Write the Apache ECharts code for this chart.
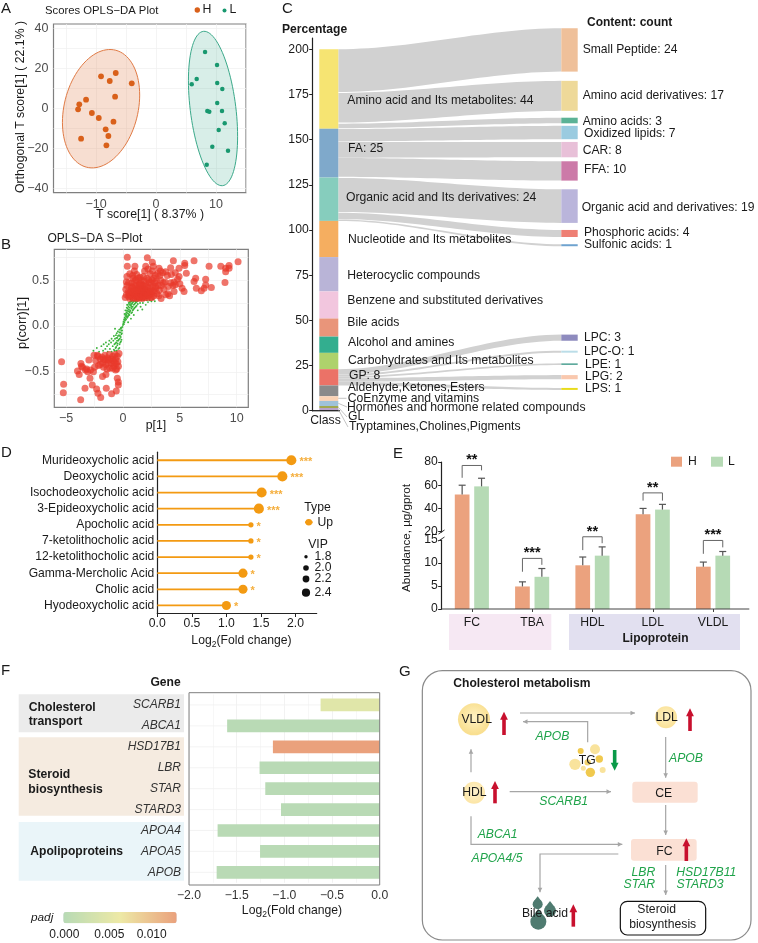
<!DOCTYPE html>
<html><head><meta charset="utf-8">
<style>html,body{margin:0;padding:0;background:#fff}#c{width:758px;height:943px}</style>
<script src="https://cdn.jsdelivr.net/npm/echarts@6/dist/echarts.min.js"></script></head>
<body><div id="c"></div>
<script>
// ---------- Panel A ----------
const scoresH = [[-9.17,16],[-6.72,17.65],[-7.72,13.65],[-4.05,12.5],[-6.83,5.8],[-11.67,4.3],[-12.8,2],[-13,-0.5],[-10.7,-2.35],[-9.55,-4.85],[-7.1,-6.7],[-8.4,-10.5],[-7.95,-13.85],[-12.5,-15.2],[-8.28,-18.5]];
const scoresL = [[8.17,28.15],[10.17,21.65],[6.78,14.65],[5.95,12],[10.2,12.65],[11.05,9.65],[10.2,2.65],[8.55,-1.35],[8.88,-1.7],[11,-1.35],[11.45,-7.5],[10.45,-10.85],[9.38,-19.2],[12,-21.2],[8.45,-28.2]];
const ellipseH = [-9.17,-0.2,6.44,29.6,0.23];   // cx, cy, half x, half y, correlation
const ellipseL = [9.5,-0.1,4.1,38.6,-0.36];
// ---------- Panel B ----------
const sRedUp = [[0.38,0.75],[0.38,0.65],[1.05,0.65],[2.14,0.745],[2,0.65],[2.58,0.695],[2.67,0.65],[4.43,0.71],[5.43,0.685],[5.43,0.66],[6.25,0.71],[7.57,0.65],[8.6,0.65],[9.33,0.66],[9.03,0.63],[10.12,0.7],[9.33,0.63],[9.03,0.59],[8.97,0.475],[7.77,0.42],[7.27,0.51],[7.27,0.447],[7.13,0.41],[6.89,0.385],[6.39,0.52],[6.25,0.484],[6.45,0.41],[5.37,0.375],[5.57,0.575],[4.93,0.54],[4.93,0.63],[4.19,0.636],[3.75,0.59],[3.17,0.63],[4.49,0.48],[4.49,0.375],[4.1,0.33],[3.95,0.35],[3.35,0.3],
[0.2,0.31],[0.3,0.34],[0.25,0.4],[0.35,0.44],[0.3,0.48],[0.5,0.32],[0.55,0.36],[0.6,0.3],[0.7,0.33],[0.7,0.38],[0.75,0.43],[0.8,0.47],[0.85,0.55],[0.9,0.31],[0.95,0.35],[1,0.3],[1.05,0.39],[1.1,0.33],[1.1,0.44],[1.15,0.5],[1.2,0.31],[1.25,0.36],[1.3,0.41],[1.35,0.3],[1.4,0.34],[1.4,0.38],[1.45,0.46],[1.5,0.31],[1.5,0.53],[1.55,0.36],[1.6,0.41],[1.65,0.33],[1.7,0.3],[1.7,0.38],[1.75,0.44],[1.8,0.35],[1.85,0.49],[1.9,0.31],[1.9,0.4],[1.95,0.36],[2,0.33],[2,0.45],[2.05,0.39],[2.1,0.31],[2.1,0.52],[2.15,0.36],[2.2,0.42],[2.25,0.33],[2.3,0.47],[2.3,0.38],[2.4,0.31],[2.45,0.4],[2.5,0.35],[2.55,0.5],[2.6,0.43],[2.7,0.33],[2.75,0.38],[2.8,0.47],[2.85,0.55],[2.9,0.41],[3,0.35],[3.1,0.44],[3.2,0.39],[3.3,0.5],[3.4,0.44],[3.5,0.58],[3.6,0.4],[3.7,0.48],[3.75,0.34],[3.9,0.55],[4,0.43],[4.2,0.47],[4.4,0.44],[4.6,0.45],[4.8,0.51],[5,0.46],[1.2,0.56],[0.6,0.57],[1,0.6],[1.9,0.6],[2.4,0.57],[2.2,0.62],[3.3,0.6],[0.8,0.42],
[0.6,0.34],[0.85,0.37],[1.15,0.35],[1.3,0.33],[1.45,0.32],[1.6,0.35],[1.75,0.32],[1.85,0.37],[2,0.37],[2.2,0.34],[2.35,0.35],[1.55,0.39],[1.7,0.41],[1.2,0.39],[2.6,0.38],[0.45,0.37],[1.35,0.44],[1.95,0.43],
[0.9,0.52],[1.6,0.5],[1.8,0.54],[2.45,0.47],[2.7,0.52],[2.95,0.49],[3.25,0.55],[1.05,0.49],[1.35,0.52],[2.25,0.5],[2.6,0.6],[3.05,0.57],[0.5,0.47],[1.6,0.46],[2.85,0.43],[3.55,0.47],[3.15,0.33],[2.55,0.31],[0.9,0.41],[1.5,0.44],[0.35,0.54],[4.6,0.58],[4.25,0.56],[5.2,0.41]];
const sRedDown = [[-5.4,-0.39],[-5.22,-0.636],[-5.25,-0.727],[-3.72,-0.804],[-3.34,-0.68],[-2.7,-0.644],[-2.32,-0.687],[-2.2,-0.735],[-1.96,-0.78],[-1.47,-0.68],[-1,-0.738],[-0.59,-0.71],[-0.41,-0.644],[-0.41,-0.61],[-0.5,-0.57],[-4,-0.49],[-3.85,-0.53],[-3.7,-0.41],[-3.55,-0.45],[-3,-0.37],[-2.9,-0.57],[-3.3,-0.48],[-3.1,-0.5],[-2.85,-0.48],[-2.5,-0.45],[-2.55,-0.32],[-2.25,-0.32],[-1.8,-0.55],[-1.5,-0.53],[-3.65,-0.44],[-3.2,-0.47],[-2.6,-0.5],
[-2.4,-0.38],[-2.2,-0.33],[-2,-0.36],[-2,-0.42],[-1.85,-0.34],[-1.8,-0.4],[-1.7,-0.45],[-1.6,-0.32],[-1.55,-0.37],[-1.5,-0.42],[-1.35,-0.35],[-1.3,-0.4],[-1.2,-0.31],[-1.15,-0.46],[-1.05,-0.36],[-1,-0.41],[-0.9,-0.33],[-0.85,-0.38],[-0.8,-0.44],[-0.7,-0.31],[-0.65,-0.36],[-0.6,-0.41],[-0.55,-0.47],[-0.5,-0.33],[-0.45,-0.39],[-0.4,-0.44],[-0.35,-0.3],[-0.65,-0.48],[-1.4,-0.47],[-0.9,-0.46],[-1.7,-0.36],[-2.15,-0.43],[-1.25,-0.37],[-0.75,-0.4]];
const sGreen = [[-2.6,-0.27],[-2.3,-0.24],[-2.1,-0.28],[-1.9,-0.22],[-1.75,-0.27],[-1.7,-0.2],[-1.55,-0.25],[-1.5,-0.18],[-1.4,-0.22],[-1.35,-0.28],[-1.25,-0.2],[-1.2,-0.16],[-1.15,-0.25],[-1.05,-0.18],[-1,-0.14],[-1,-0.28],[-0.9,-0.22],[-0.85,-0.16],[-0.8,-0.11],[-0.8,-0.26],[-0.75,-0.2],[-0.7,-0.14],[-0.65,-0.24],[-0.62,-0.1],[-0.6,-0.18],[-0.55,-0.08],[-0.55,-0.27],[-0.5,-0.13],[-0.5,-0.21],[-0.45,-0.06],[-0.42,-0.16],[-0.4,-0.25],[-0.35,-0.1],[-0.33,-0.04],[-0.3,-0.2],[-0.28,-0.14],[-0.25,-0.07],[-0.22,-0.03],[-0.2,-0.12],[-0.18,-0.17],[-0.15,-0.05],[-0.12,-0.02],[-0.1,-0.08],[-0.05,-0.01],[0,0.01],[0.03,0.03],[0.05,0.05],[0.08,0.02],[0.1,0.07],[0.12,0.04],[0.15,0.09],[0.18,0.06],[0.2,0.11],[0.22,0.08],[0.25,0.13],[0.28,0.1],[0.3,0.15],[0.32,0.12],[0.35,0.17],[0.38,0.14],[0.4,0.19],[0.42,0.1],[0.45,0.16],[0.48,0.21],[0.5,0.13],[0.52,0.18],[0.55,0.23],[0.58,0.15],[0.6,0.2],[0.62,0.25],[0.65,0.17],[0.7,0.22],[0.72,0.27],[0.75,0.19],[0.78,0.24],[0.8,0.15],[0.82,0.28],[0.85,0.21],[0.88,0.26],[0.9,0.18],[0.95,0.23],[1,0.28],[1.05,0.2],[1.1,0.25],[1.15,0.29],[1.2,0.22],[1.25,0.27],[1.3,0.24],[1.4,0.28],[1.5,0.25],[1.55,0.21],[1.65,0.28],[1.75,0.25],[1.85,0.28],[2,0.23],[2.1,0.28],[2.2,0.26],[2.35,0.28],[2.5,0.27],[2.65,0.29],[2.8,0.27],[0.95,0.12],[0.7,0.08],[0.45,0.04],[-0.7,-0.03],[1.3,0.17],[1.7,0.18],
[0.14,0.13],[0.21,0.17],[0.27,0.07],[0.33,0.2],[0.37,0.09],[0.41,0.23],[0.46,0.11],[0.51,0.25],[0.56,0.12],[0.61,0.16],[0.66,0.23],[0.68,0.27],[0.73,0.14],[0.76,0.21],[0.81,0.25],[0.86,0.17],[0.92,0.27],[0.98,0.19],[1.02,0.24],[1.08,0.27],[1.12,0.21],[1.18,0.26],[0.64,0.29],[0.36,0.23],[0.58,0.26],[-0.08,-0.05],[-0.14,-0.09],[-0.17,-0.02],[-0.26,-0.11],[-0.31,-0.07],[-0.37,-0.15],[-0.44,-0.11],[-0.47,-0.19],[-0.52,-0.16],[-0.58,-0.13],[-0.6,-0.23],[-0.67,-0.19],[-0.72,-0.27],[-0.24,-0.18],[-0.32,-0.24],[-0.13,-0.15]];
// ---------- Panel C ----------
const classNames = ['Amino acid and Its metabolites: 44','FA: 25','Organic acid and Its derivatives: 24','Nucleotide and Its metabolites','Heterocyclic compounds','Benzene and substituted derivatives','Bile acids','Alcohol and amines','Carbohydrates and Its metabolites','GP: 8','Aldehyde,Ketones,Esters','CoEnzyme and vitamins','Hormones and hormone related compounds','GL','Tryptamines,Cholines,Pigments'];
const classSizes = [44,27,24,20,19,15,10,9,9,9,6,2.6,2.8,1.1,1.5];
const percentTicks = [0,25,50,75,100,125,150,175,200];
const contentNames = ['Small Peptide: 24','Amino acid derivatives: 17','Amino acids: 3','Oxidized lipids: 7','CAR: 8','FFA: 10','Organic acid and derivatives: 19','Phosphoric acids: 4','Sulfonic acids: 1','LPC: 3','LPC-O: 1','LPE: 1','LPG: 2','LPS: 1'];
const contentTop = [211.6,182.5,162.1,157.6,148.7,138,122.5,100,92.1,42.1,33.2,26.2,19.7,12.6];
const contentBottom = [187.6,165.9,159,150.2,140.2,127.3,103.9,96.1,91,38.7,32.1,25.3,17.4,11.5];
const flowLeftTop = [200,175.8,158.8,155.8,148.6,139.8,128.8,109.5,105.8,23,20,19,18,16];
const flowLeftBottom = [176.3,159.4,156.3,149,140,129.4,110,106,105,20,19,18,16,14];
// ---------- Panel D ----------
const acids = ['Murideoxycholic acid','Deoxycholic acid','Isochodeoxycholic acid','3-Epideoxycholic acid','Apocholic acid','7-ketolithocholic acid','12-ketolithocholic acid','Gamma-Mercholic Acid','Cholic acid','Hyodeoxycholic acid'];
const acidFC = [1.94,1.81,1.51,1.47,1.355,1.355,1.355,1.24,1.24,1.0];
const acidVIP = [2.5,2.5,2.5,2.5,2.0,2.0,2.0,2.4,2.4,2.4];
const acidStars = ['***','***','***','***','*','*','*','*','*','*'];
// ---------- Panel E ----------
const lipids = ['FC','TBA','HDL','LDL','VLDL'];
const abundH = [52,4.9,9.5,35,9.2];
const abundL = [59,7,11.6,39,11.6];
const errH = [60,5.9,11.3,40,10.2];
const errL = [66,8.8,13.5,43.5,12.5];
const bracketTop = [77,11,15.7,53.4,14.9];
const bracketLeftEnd = [66.4,8.1,12.8,46.7,12];
const bracketRightEnd = [72.8,9.6,14.3,46.7,13.4];
const bracketStars = ['**','***','**','**','***'];
// ---------- Panel F ----------
const genes = ['SCARB1','ABCA1','HSD17B1','LBR','STAR','STARD3','APOA4','APOA5','APOB'];
const geneFC = [-0.62,-1.6,-1.12,-1.26,-1.2,-1.035,-1.7,-1.255,-1.71];
const genePadj = [0.0048,0.0002,0.0125,0.0002,0.0002,0.0002,0.0002,0.0002,0.0002];

// ---------- palettes ----------
const classColors = ['#F6E472','#7FA9CB','#86CDBD','#F5AE60','#B9B4D7','#F2C6DE','#E9957A','#33AE8F','#AED26C','#EB7267','#8A8A8A','#FBD3B5','#9FC2D8','#A2A84F','#B9A3C9'];
const contentColors = ['#EFC09A','#EED999','#5BB296','#9ACBE0','#E8C0D8','#CC7AA8','#BAB5DB','#EE7F74','#6FA3CF','#8E8BBE','#BBDDE8','#5AA89A','#F9C8AE','#E8DB1C'];
const FONT = '"Liberation Sans",Arial,sans-serif';
const G = [];
function T(text,x,y,o){o=o||{};G.push({type:'text',x:x,y:y,rotation:o.rot||0,z:o.z||60,silent:true,style:{text:text,x:0,y:0,align:o.align||'left',verticalAlign:'middle',fontSize:o.size||12,fontFamily:FONT,fontWeight:o.bold?'bold':'normal',fontStyle:o.italic?'italic':'normal',fill:o.color||'#1a1a1a',rich:o.rich}});}
function R(x,y,w,h,fill,o){o=o||{};G.push({type:'rect',z:o.z==null?-5:o.z,silent:true,shape:{x:x,y:y,width:w,height:h,r:o.r||0},style:{fill:fill,stroke:o.stroke||null,lineWidth:o.lw||0}});}
function L(pts,color,lw,z){G.push({type:'polyline',z:z||50,silent:true,shape:{points:pts},style:{stroke:color,lineWidth:lw||1,fill:null}});}
function C(x,y,r,fill,z){G.push({type:'circle',z:z||40,silent:true,shape:{cx:x,cy:y,r:r},style:{fill:fill}});}
function P(pts,fill,z){G.push({type:'polygon',z:z||55,silent:true,shape:{points:pts},style:{fill:fill}});}

const subRich={s:{fontSize:8.5,fontFamily:FONT,fill:'#1a1a1a',padding:[7,0,0,0]}};
const logLabel='Log{s|2}(Fold change)';

// panel letters
[['A',1,9],['B',1,245],['C',282,9],['D',1,453],['E',393,454],['F',1,671],['G',399,672]].forEach(a=>T(a[0],a[1],a[2],{size:15}));

// Panel A text
T('Scores OPLS\u2212DA Plot',45,11,{size:11.3});
C(197.3,10,2.7,'#D9601A');T('H',202.5,10,{size:12.3});C(224.5,10.5,2,'#18986F');T('L',229.5,10,{size:12.3});
T('Orthogonal T score[1] ( 22.1% )',20.5,107,{rot:Math.PI/2,align:'center',size:12.3});
T('T score[1] ( 8.37% )',150,215,{align:'center',size:12.3});
// Panel B text
T('OPLS\u2212DA S\u2212Plot',47.5,239,{size:12});
T('p(corr)[1]',22.5,323,{rot:Math.PI/2,align:'center',size:12.8});
T('p[1]',156,426,{align:'center',size:12.3});
// Panel C text
T('Percentage',282,30,{bold:true,size:12.1});
T('Content: count',587,23,{bold:true,size:12});
T('Class',325.5,421,{align:'center',size:12.2});
const classLabelPos=[[347.3,100.7],[348,148.7],[346,198],[348,240],[347.3,276],[347.3,300.7],[347.3,323],[348,343],[348,361],[349,376],[347.7,388],[347.7,398.3],[347,407.7],[348,417],[349,427]];
classNames.forEach((n,i)=>T(n,classLabelPos[i][0],classLabelPos[i][1],{size:12.2}));
const contentLabelPos=[[582.7,49.7],[582.7,96],[582.7,121.7],[584,134],[582.7,151],[584,170],[581.7,208],[584,233],[584,245],[584,337.3],[584,352],[585,365],[585,377],[585,389]];
contentNames.forEach((n,i)=>T(n,contentLabelPos[i][0],contentLabelPos[i][1],{size:12.1}));
L([[312,410.7],[340,410.7]],'#222',1.3);
[[[338.3,398.3],[346.5,398.3]],[[338.3,403.3],[347,407]],[[338.3,407.3],[347,417]],[[338.3,409.3],[348,427]]].forEach(p=>L(p,'#aaa',0.7));
// Panel D text
T(logLabel,241.5,641,{align:'center',size:12.2,rich:subRich});
T('Type',317.5,508,{align:'center',size:12.2});
L([[305,522.3],[312.7,522.3]],'#F39A12',2);C(308.8,522.3,3.3,'#F39A12');T('Up',317.5,522.3,{size:12.2});
T('VIP',318,544.3,{align:'center',size:12.2});
[[556.7,1.7,'1.8'],[568,2.8,'2.0'],[579,3.4,'2.2'],[592.7,4.1,'2.4']].forEach(v=>{C(306,v[0],v[1],'#111');T(v[2],314.5,v[0],{size:12.2});});
// Panel E text & decoration
T('Abundance, \u00b5g/gprot',406.5,538,{rot:Math.PI/2,align:'center',size:11.6});
R(449,614,102.3,36,'#F6E8F3');R(569,614,171,36,'#E2E0F0');
T('Lipoprotein',655.5,638.5,{align:'center',bold:true,size:12});
R(671,456.7,11,10,'#EBA27E',{z:40});T('H',688,461.5,{size:12.2});R(711,456.7,12,10,'#B6DAB5',{z:40});T('L',728,461.5,{size:12.2});
L([[441.7,609],[749.3,609]],'#444',1);
R(437,532.5,9,7,'#fff',{z:45});L([[438.5,534],[444.5,530]],'#333',1,50);L([[438.5,541],[444.5,537]],'#333',1,50);
// Panel F text & decoration
R(18.7,694.3,165.3,38,'#EBEBEB');R(18.7,737.3,165.3,78.4,'#F5EBE0');R(18.7,822,165.3,58.7,'#EAF5F9');
T('Gene',165.5,682.5,{align:'center',bold:true,size:12.1});
T('Cholesterol',28.7,707.3,{bold:true,size:12.2});T('transport',28.7,722,{bold:true,size:12.2});
T('Steroid',28.3,774.3,{bold:true,size:12.2});T('biosynthesis',28.3,789.3,{bold:true,size:12.2});
T('Apolipoproteins',30.3,851.7,{bold:true,size:12.1});
R(189,692.7,190.7,192.3,'transparent',{stroke:'#7F7F7F',lw:1,z:20});
T(logLabel,292,911,{align:'center',size:12.2,rich:subRich});
T('padj',31,917.5,{italic:true,size:11.8});
[['0.000',64.3],['0.005',109.3],['0.010',151.7]].forEach(v=>T(v[0],v[1],934.5,{align:'center',size:12}));

// Panel G (schematic)
const zx=x=>395+x/3, zy=y=>655+y/3, Z=(x,y)=>[zx(x),zy(y)];
R(zx(82),zy(47),(1068-82)/3,(855-47)/3,'#fff',{stroke:'#8a8a8a',lw:1.2,r:20,z:-2});
T('Cholesterol metabolism',zx(175),zy(87),{bold:true,size:12.1});
function arrow(pts){const p=pts.map(q=>Z(q[0],q[1]));L(p,'#A6A6A6',1.2);const a=p[p.length-1],b=p[p.length-2],d=Math.hypot(a[0]-b[0],a[1]-b[1]),u=[(a[0]-b[0])/d,(a[1]-b[1])/d],n=[-u[1],u[0]];P([a,[a[0]-u[0]*4.5+n[0]*2.3,a[1]-u[1]*4.5+n[1]*2.3],[a[0]-u[0]*4.5-n[0]*2.3,a[1]-u[1]*4.5-n[1]*2.3]],'#A6A6A6');}
[[[375,174],[720,174]],[[578,262],[578,200],[384,200]],[[228,352],[228,283]],[[812,246],[812,368]],[[344,410],[648,410]],[[812,450],[812,540]],[[228,484],[228,568],[682,568]],[[670,597],[435,597],[435,712]],[[812,630],[812,720]]].forEach(arrow);
const rg=(a,b)=>({type:'radial',x:.5,y:.45,r:.5,colorStops:[{offset:0,color:a},{offset:1,color:b}]});
C(zx(237),zy(193),16,rg('#FFF3C4','#F9DF90'));C(zx(813),zy(187),11,rg('#FFF3C4','#FAE29A'));C(zx(237),zy(413),11,rg('#FFF3D0','#FCE6A8'));
[[600,283,5,'#F9E39C'],[557,288,3,'#F0C94E'],[540,328,5.7,'#F9E39C'],[578,322,3.2,'#F3D46F'],[613,312,3.7,'#F0C94E'],[586,352,4.7,'#F0C94E'],[623,345,3,'#F9E39C'],[565,340,2.5,'#F9E39C']].forEach(d=>C(zx(d[0]),zy(d[1]),d[2],d[3]));
R(zx(712),zy(380),196/3,63/3,'#FBE0D4',{r:3,z:30});R(zx(708),zy(552),197/3,65/3,'#FBE0D4',{r:3,z:30});
R(zx(676),zy(739),256/3,101/3,'#fff',{stroke:'#111',lw:1.2,r:7,z:30});
[['VLDL',245,193],['LDL',815,187],['TG',577,316],['HDL',238,413],['CE',806,415],['FC',808,590],['Steroid',785,765],['biosynthesis',803,808],['Bile acid',450,775]].forEach(t=>T(t[0],zx(t[1]),zy(t[2]),{align:'center',size:12.2}));
function bold(x,y0,y1,c){const X=zx(x),dir=y1<y0?-1:1,a=zy(y0),b=zy(y1);R(X-1.8,Math.min(a,b+(-dir)*6),3.6,Math.abs(a-b)-6,c,{z:58});P([[X,b],[X-3.9,b-dir*8],[X+3.9,b-dir*8]],c,58);}
[[327,240,170],[885,228,160],[300,445,378],[874,618,550],[535,815,748]].forEach(a=>bold(a[0],a[1],a[2],'#C8102E'));
bold(659,285,347,'#0A9A48');
[['APOB',472,244],['APOB',873,312],['SCARB1',506,441],['ABCA1',308,540],['APOA4/5',306,610],['LBR',745,654],['STAR',733,690],['HSD17B11',934,654],['STARD3',915,690]].forEach(t=>T(t[0],zx(t[1]),zy(t[2]),{align:'center',italic:true,size:12.2,color:'#1FA34A'}));
[[428,748,5],[465,767,6],[430,800,8]].forEach(d=>{C(zx(d[0]),zy(d[1]),d[2],'#4F7B70');P([[zx(d[0])-d[2]*.8,zy(d[1])-d[2]*.55],[zx(d[0])+d[2]*.8,zy(d[1])-d[2]*.55],[zx(d[0]),zy(d[1])-d[2]*1.6]],'#4F7B70',41);});

// ---------- axis helpers ----------
const minus=v=>String(v).replace('-','\u2212');
function ggAxis(grid,min,max,major,all,fmt,type){return {type:'value',gridIndex:grid,min:min,max:max,axisLine:{show:false},
  axisTick:{show:false,customValues:all},axisLabel:{customValues:major,color:'#4D4D4D',fontSize:12.5,fontFamily:FONT,margin:5,formatter:fmt||minus},
  splitLine:{show:true,lineStyle:{color:'#EFEFEF',width:0.7}}};}
function plainAxis(grid,min,max,ticks,o){o=o||{};return Object.assign({type:'value',gridIndex:grid,min:min,max:max,
  axisLine:{show:true,lineStyle:{color:'#222',width:1.2}},axisTick:{show:true,length:3.5,lineStyle:{color:'#222'},customValues:ticks},
  axisLabel:{customValues:ticks,color:'#1a1a1a',fontSize:12.2,fontFamily:FONT,margin:4,formatter:o.fmt||(v=>String(v))},splitLine:{show:false}},o.extra||{});}

const grids=[
 {left:53.5,top:24,width:192.5,height:168.7,show:true,borderColor:'#7F7F7F',borderWidth:1.2,backgroundColor:'#fff'},
 {left:54.3,top:249.3,width:194,height:158,show:true,borderColor:'#7F7F7F',borderWidth:1.2,backgroundColor:'#fff'},
 {left:312.7,top:38,width:265,height:372.7},
 {left:157.3,top:452.2,width:159.4,height:161.3},
 {left:441.7,top:462,width:301.5,height:78},
 {left:441.7,top:540,width:301.5,height:69},
 {left:189,top:694.5,width:190.7,height:188.3}
];
const xAxes=[
 ggAxis(0,-17.1,15,[-10,0,10],[-15,-10,-5,0,5,10,15]),
 ggAxis(1,-6.04,11.02,[-5,0,5,10],[-5,-2.5,0,2.5,5,7.5,10]),
 {type:'value',gridIndex:2,min:0,max:1,show:false},
 plainAxis(3,0,2.307,[0,0.5,1,1.5,2],{fmt:v=>v.toFixed(1)}),
 {type:'category',gridIndex:4,data:lipids,show:false},
 {type:'category',gridIndex:5,data:lipids,axisLine:{show:false},axisTick:{show:true,alignWithLabel:true,length:3,lineStyle:{color:'#444'}},axisLabel:{color:'#1a1a1a',fontSize:12.2,fontFamily:FONT,margin:8}},
 {type:'value',gridIndex:6,min:-2,max:0,interval:0.5,axisLine:{show:false},axisTick:{show:false},axisLabel:{color:'#333',fontSize:12.2,fontFamily:FONT,margin:7,formatter:v=>v.toFixed(1).replace('-','\u2212')},
  splitLine:{show:true,lineStyle:{color:'#EDEDED',width:0.7}},minorTick:{show:false,splitNumber:2},minorSplitLine:{show:true,lineStyle:{color:'#F4F4F4',width:0.7}}}
];
const yAxes=[
 ggAxis(0,-42.2,42.15,[-40,-20,0,20,40],[-40,-30,-20,-10,0,10,20,30,40]),
 ggAxis(1,-0.887,0.836,[-0.5,0,0.5],[-0.75,-0.5,-0.25,0,0.25,0.5,0.75],v=>minus(v.toFixed(1))),
 plainAxis(2,0,206.2,percentTicks),
 {type:'category',gridIndex:3,data:acids,inverse:true,axisLine:{show:true,lineStyle:{color:'#222',width:1.2}},axisTick:{show:false},axisLabel:{color:'#1a1a1a',fontSize:12.1,fontFamily:FONT,margin:3}},
 plainAxis(4,12.8,80,[20,40,60,80]),
 plainAxis(5,0,15,[0,5,10,15]),
 {type:'category',gridIndex:6,data:genes,inverse:true,axisLine:{show:false},axisTick:{show:false},axisLabel:{color:'#333',fontStyle:'italic',fontSize:12,fontFamily:FONT,margin:8}}
];

// ---------- render helpers ----------
function ellipseItem(e,stroke,fill){return function(p,api){const pts=[];for(let k=0;k<96;k++){const t=k/96*2*Math.PI,phi=Math.acos(e[4]);pts.push(api.coord([e[0]+e[2]*Math.cos(t),e[1]+e[3]*Math.cos(t-phi)]));}
  return {type:'polygon',shape:{points:pts},style:{fill:fill,stroke:stroke,lineWidth:1}};};}
const xBarL=[319.3,338.3], xNode=[561.3,577.7];
const yOf=(api,v)=>api.coord([0,v])[1];
function classItem(p,api){const top=api.value(0),bot=api.value(1);const y0=yOf(api,top),y1=yOf(api,bot);return {type:'rect',shape:{x:xBarL[0],y:y0,width:xBarL[1]-xBarL[0],height:y1-y0},style:{fill:classColors[p.dataIndex]}};}
function nodeItem(p,api){const y0=yOf(api,api.value(0)),y1=yOf(api,api.value(1));return {type:'rect',shape:{x:xNode[0],y:y0,width:xNode[1]-xNode[0],height:y1-y0},style:{fill:contentColors[p.dataIndex]}};}
function flowItem(p,api){const a=yOf(api,api.value(0)),b=yOf(api,api.value(1)),c=yOf(api,api.value(2)),d=yOf(api,api.value(3));const top=[],bot=[];const x0=xBarL[1],x1=xNode[0];
  for(let k=0;k<=30;k++){const t=k/30,s=t*t*(3-2*t),x=x0+(x1-x0)*t;top.push([x,a+(c-a)*s]);bot.unshift([x,b+(d-b)*s]);}
  return {type:'polygon',shape:{points:top.concat(bot)},style:{fill:'#D1D1D1'}};}
const barOffset=9.7;
function errItem(p,api){const i=api.value(0),s=api.value(1),lo=api.value(2),hi=api.value(3);const a=api.coord([i,lo]),b=api.coord([i,hi]);const x=a[0]+s*barOffset;
  return {type:'group',children:[{type:'line',shape:{x1:x,y1:a[1],x2:x,y2:b[1]},style:{stroke:'#555',lineWidth:1.2}},{type:'line',shape:{x1:x-3.5,y1:b[1],x2:x+3.5,y2:b[1]},style:{stroke:'#555',lineWidth:1.2}}]};}
function brItem(p,api){const i=api.value(0),t=api.coord([i,api.value(1)]),l=api.coord([i,api.value(2)]),r=api.coord([i,api.value(3)]);const x0=t[0]-barOffset,x1=t[0]+barOffset;
  return {type:'group',children:[{type:'polyline',shape:{points:[[x0,l[1]],[x0,t[1]],[x1,t[1]],[x1,r[1]]]},style:{stroke:'#666',lineWidth:1,fill:null}},
   {type:'text',x:t[0],y:t[1]-5,style:{text:bracketStars[p.dataIndex],align:'center',verticalAlign:'middle',fontSize:14.5,fontWeight:'bold',fontFamily:FONT,fill:'#111'}}]};}
const isUpper=i=>abundH[i]>20;
const errRows=(up)=>{const r=[];lipids.forEach((n,i)=>{if(isUpper(i)===up){r.push([i,-1,abundH[i],errH[i]]);r.push([i,1,abundL[i],errL[i]]);}});return r;};
const brRows=(up)=>{const r=[];lipids.forEach((n,i)=>{r.push(isUpper(i)===up?[i,bracketTop[i],bracketLeftEnd[i],bracketRightEnd[i]]:[i,NaN,NaN,NaN]);});return r;};

const series=[
 // A
 {type:'custom',xAxisIndex:0,yAxisIndex:0,data:[[0,0]],renderItem:ellipseItem(ellipseH,'#E07B46','rgba(224,123,70,0.25)'),z:2},
 {type:'custom',xAxisIndex:0,yAxisIndex:0,data:[[0,0]],renderItem:ellipseItem(ellipseL,'#3BA98A','rgba(59,169,138,0.2)'),z:2},
 {type:'scatter',xAxisIndex:0,yAxisIndex:0,data:scoresH,symbolSize:5.8,itemStyle:{color:'#D9601A',opacity:1},z:3},
 {type:'scatter',xAxisIndex:0,yAxisIndex:0,data:scoresL,symbolSize:4.5,itemStyle:{color:'#18986F',opacity:1},z:3},
 // B
 {type:'scatter',xAxisIndex:1,yAxisIndex:1,data:sGreen,symbolSize:1.9,itemStyle:{color:'#3CB43C',opacity:1},z:3},
 {type:'scatter',xAxisIndex:1,yAxisIndex:1,data:sRedUp,symbolSize:7,itemStyle:{color:'#E8392B',opacity:0.7},z:4},
 {type:'scatter',xAxisIndex:1,yAxisIndex:1,data:sRedDown,symbolSize:7,itemStyle:{color:'#E8392B',opacity:0.7},z:4},
 // C
 {type:'custom',xAxisIndex:2,yAxisIndex:2,data:flowLeftTop.map((v,i)=>[v,flowLeftBottom[i],contentTop[i],contentBottom[i]]),renderItem:flowItem,z:2},
 {type:'custom',xAxisIndex:2,yAxisIndex:2,data:classSizes.map((v,i)=>{const top=200-classSizes.slice(0,i).reduce((a,b)=>a+b,0);return [top,top-v];}),renderItem:classItem,z:3},
 {type:'custom',xAxisIndex:2,yAxisIndex:2,data:contentTop.map((v,i)=>[v,contentBottom[i]]),renderItem:nodeItem,z:3},
 // D
 {type:'bar',xAxisIndex:3,yAxisIndex:3,data:acidFC,barWidth:1.8,itemStyle:{color:'#F39A12'},z:2},
 {type:'scatter',xAxisIndex:3,yAxisIndex:3,data:acidFC.map((v,i)=>[v,i]),symbolSize:(v,p)=>3.3+(acidVIP[p.dataIndex]-1.8)*9.7,itemStyle:{color:'#F39A12',opacity:1},z:3,
   label:{show:true,position:'right',distance:3,offset:[0,2],formatter:p=>acidStars[p.dataIndex],color:'#F5AE3C',fontSize:11,fontWeight:'bold',fontFamily:FONT}},
 // E
 {type:'bar',xAxisIndex:4,yAxisIndex:4,data:abundH.map((v,i)=>isUpper(i)?v:null),barWidth:14.7,barGap:'32%',itemStyle:{color:'#EBA27E'},z:2},
 {type:'bar',xAxisIndex:4,yAxisIndex:4,data:abundL.map((v,i)=>isUpper(i)?v:null),barWidth:14.7,barGap:'32%',itemStyle:{color:'#B6DAB5'},z:2},
 {type:'bar',xAxisIndex:5,yAxisIndex:5,data:abundH,barWidth:14.7,barGap:'32%',itemStyle:{color:'#EBA27E'},z:2},
 {type:'bar',xAxisIndex:5,yAxisIndex:5,data:abundL,barWidth:14.7,barGap:'32%',itemStyle:{color:'#B6DAB5'},z:2},
 {type:'custom',xAxisIndex:4,yAxisIndex:4,data:errRows(true),renderItem:errItem,z:3},
 {type:'custom',xAxisIndex:5,yAxisIndex:5,data:errRows(false),renderItem:errItem,z:3},
 {type:'custom',xAxisIndex:4,yAxisIndex:4,data:brRows(true),renderItem:(p,api)=>isNaN(api.value(1))?null:brItem(p,api),z:3},
 {type:'custom',xAxisIndex:5,yAxisIndex:5,data:brRows(false),renderItem:(p,api)=>isNaN(api.value(1))?null:brItem(p,api),z:3},
 // F
 {type:'custom',xAxisIndex:6,yAxisIndex:6,data:genes.map((g,i)=>[0,i]),renderItem:(p,api)=>{const a=api.coord([-2,p.dataIndex]),b=api.coord([0,p.dataIndex]);return {type:'line',shape:{x1:a[0],y1:a[1],x2:b[0],y2:b[1]},style:{stroke:'#F0F0F0',lineWidth:0.8}};},z:1},
 {type:'bar',id:'genes',xAxisIndex:6,yAxisIndex:6,data:geneFC.map((v,i)=>[v,i,genePadj[i]]),encode:{x:0,y:1},barWidth:12.7,z:2}
];
const chart=echarts.init(document.getElementById('c'),null,{renderer:'canvas'});
chart.setOption({animation:false,backgroundColor:'#fff',textStyle:{fontFamily:FONT},grid:grids,xAxis:xAxes,yAxis:yAxes,series:series,
 visualMap:[{type:'continuous',seriesIndex:series.length-1,dimension:2,min:0,max:0.0125,orient:'horizontal',left:63.3,top:912,padding:0,itemWidth:11.3,itemHeight:113.4,calculable:false,inRange:{color:['#B7DAB5','#EDE9A6','#EAA17C']}}],
 graphic:G});
</script></body></html>
